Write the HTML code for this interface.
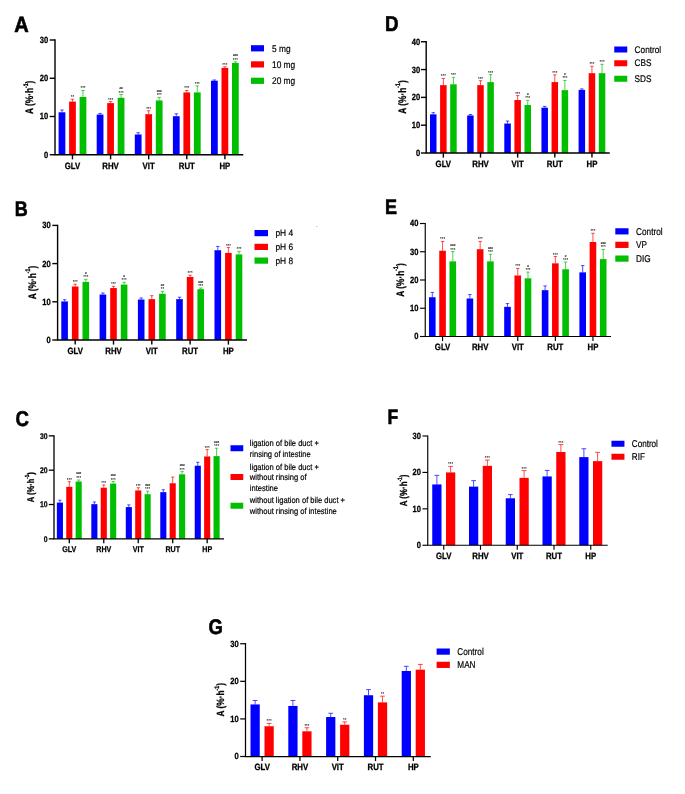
<!DOCTYPE html>
<html><head><meta charset="utf-8"><title>Figure</title>
<style>html,body{margin:0;padding:0;background:#fff}svg{display:block}text{fill:#000}</style>
</head><body>
<svg width="685" height="794" viewBox="0 0 685 794" text-rendering="geometricPrecision">
<rect width="685" height="794" fill="#fff"/>
<rect x="58.6" y="112.29" width="6.75" height="42.46" fill="#0000ff"/>
<path d="M61.98 112.29V110M60.22 110H63.73" stroke="#0000ff" stroke-width="0.7" fill="none"/>
<rect x="69.1" y="101.58" width="6.75" height="53.17" fill="#ff0000"/>
<path d="M72.47 101.58V99.29M70.72 99.29H74.23" stroke="#ff0000" stroke-width="0.7" fill="none"/>
<text x="72.47" y="98.29" font-size="4.3" text-anchor="middle" fill="#555" font-weight="bold" font-family="Liberation Sans, sans-serif">**</text>
<rect x="79.6" y="96.99" width="6.75" height="57.76" fill="#00be00"/>
<path d="M82.97 96.99V90.49M81.22 90.49H84.73" stroke="#00be00" stroke-width="0.7" fill="none"/>
<text x="82.97" y="89.49" font-size="4.3" text-anchor="middle" fill="#555" font-weight="bold" font-family="Liberation Sans, sans-serif">***</text>
<rect x="96.7" y="114.59" width="6.75" height="40.16" fill="#0000ff"/>
<path d="M100.08 114.59V113.44M98.32 113.44H101.83" stroke="#0000ff" stroke-width="0.7" fill="none"/>
<rect x="107.2" y="103.11" width="6.75" height="51.64" fill="#ff0000"/>
<path d="M110.58 103.11V101.58M108.82 101.58H112.33" stroke="#ff0000" stroke-width="0.7" fill="none"/>
<text x="110.58" y="100.58" font-size="4.3" text-anchor="middle" fill="#555" font-weight="bold" font-family="Liberation Sans, sans-serif">***</text>
<rect x="117.7" y="97.76" width="6.75" height="56.99" fill="#00be00"/>
<path d="M121.08 97.76V94.51M119.32 94.51H122.83" stroke="#00be00" stroke-width="0.7" fill="none"/>
<text x="121.08" y="93.51" font-size="4.3" text-anchor="middle" fill="#555" font-weight="bold" font-family="Liberation Sans, sans-serif">***</text>
<text transform="translate(121.08,89.01) scale(1.15,1)" font-size="2.6" text-anchor="middle" fill="#555" stroke="#555" stroke-width="0.18" font-weight="bold" font-family="Liberation Sans, sans-serif">##</text>
<rect x="134.8" y="134.48" width="6.75" height="20.27" fill="#0000ff"/>
<path d="M138.18 134.48V132.76M136.42 132.76H139.93" stroke="#0000ff" stroke-width="0.7" fill="none"/>
<rect x="145.3" y="114.2" width="6.75" height="40.55" fill="#ff0000"/>
<path d="M148.68 114.2V110.76M146.92 110.76H150.43" stroke="#ff0000" stroke-width="0.7" fill="none"/>
<text x="148.68" y="109.76" font-size="4.3" text-anchor="middle" fill="#555" font-weight="bold" font-family="Liberation Sans, sans-serif">***</text>
<rect x="155.8" y="100.44" width="6.75" height="54.31" fill="#00be00"/>
<path d="M159.18 100.44V97.38M157.42 97.38H160.93" stroke="#00be00" stroke-width="0.7" fill="none"/>
<text x="159.18" y="96.38" font-size="4.3" text-anchor="middle" fill="#555" font-weight="bold" font-family="Liberation Sans, sans-serif">***</text>
<text transform="translate(159.18,91.88) scale(1.15,1)" font-size="2.6" text-anchor="middle" fill="#555" stroke="#555" stroke-width="0.18" font-weight="bold" font-family="Liberation Sans, sans-serif">###</text>
<rect x="172.9" y="116.23" width="6.75" height="38.52" fill="#0000ff"/>
<path d="M176.28 116.23V113.75M174.52 113.75H178.03" stroke="#0000ff" stroke-width="0.7" fill="none"/>
<rect x="183.4" y="92.4" width="6.75" height="62.35" fill="#ff0000"/>
<path d="M186.78 92.4V90.49M185.02 90.49H188.53" stroke="#ff0000" stroke-width="0.7" fill="none"/>
<text x="186.78" y="89.49" font-size="4.3" text-anchor="middle" fill="#555" font-weight="bold" font-family="Liberation Sans, sans-serif">***</text>
<rect x="193.9" y="92.4" width="6.75" height="62.35" fill="#00be00"/>
<path d="M197.28 92.4V85.9M195.52 85.9H199.03" stroke="#00be00" stroke-width="0.7" fill="none"/>
<text x="197.28" y="84.9" font-size="4.3" text-anchor="middle" fill="#555" font-weight="bold" font-family="Liberation Sans, sans-serif">***</text>
<rect x="211" y="80.74" width="6.75" height="74.01" fill="#0000ff"/>
<path d="M214.38 80.74V79.97M212.62 79.97H216.13" stroke="#0000ff" stroke-width="0.7" fill="none"/>
<rect x="221.5" y="67.92" width="6.75" height="86.83" fill="#ff0000"/>
<path d="M224.88 67.92V66.78M223.12 66.78H226.63" stroke="#ff0000" stroke-width="0.7" fill="none"/>
<text x="224.88" y="65.78" font-size="4.3" text-anchor="middle" fill="#555" font-weight="bold" font-family="Liberation Sans, sans-serif">***</text>
<rect x="232" y="62.95" width="6.75" height="91.8" fill="#00be00"/>
<path d="M235.38 62.95V61.8M233.62 61.8H237.13" stroke="#00be00" stroke-width="0.7" fill="none"/>
<text x="235.38" y="60.8" font-size="4.3" text-anchor="middle" fill="#555" font-weight="bold" font-family="Liberation Sans, sans-serif">***</text>
<text transform="translate(235.38,56.3) scale(1.15,1)" font-size="2.6" text-anchor="middle" fill="#555" stroke="#555" stroke-width="0.18" font-weight="bold" font-family="Liberation Sans, sans-serif">###</text>
<path d="M55 39.3V155.45M54.3 154.75H243.25" stroke="#000" stroke-width="1.4" fill="none"/>
<path d="M49.7 154.75H55" stroke="#000" stroke-width="1.4"/>
<text transform="translate(48.1,157.72) scale(0.84,1)" font-size="9.0" font-weight="bold" stroke="#000" stroke-width="0.27" text-anchor="end" font-family="Liberation Sans, sans-serif">0</text>
<path d="M49.7 116.5H55" stroke="#000" stroke-width="1.4"/>
<text transform="translate(48.1,119.47) scale(0.84,1)" font-size="9.0" font-weight="bold" stroke="#000" stroke-width="0.27" text-anchor="end" font-family="Liberation Sans, sans-serif">10</text>
<path d="M49.7 78.25H55" stroke="#000" stroke-width="1.4"/>
<text transform="translate(48.1,81.22) scale(0.84,1)" font-size="9.0" font-weight="bold" stroke="#000" stroke-width="0.27" text-anchor="end" font-family="Liberation Sans, sans-serif">20</text>
<path d="M49.7 40H55" stroke="#000" stroke-width="1.4"/>
<text transform="translate(48.1,42.97) scale(0.84,1)" font-size="9.0" font-weight="bold" stroke="#000" stroke-width="0.27" text-anchor="end" font-family="Liberation Sans, sans-serif">30</text>
<path d="M72.47 154.75V159.35" stroke="#000" stroke-width="1.4"/>
<text transform="translate(72.47,168.9) scale(0.85,1)" font-size="9.2" font-weight="bold" stroke="#000" stroke-width="0.28" text-anchor="middle" font-family="Liberation Sans, sans-serif">GLV</text>
<path d="M110.58 154.75V159.35" stroke="#000" stroke-width="1.4"/>
<text transform="translate(110.58,168.9) scale(0.85,1)" font-size="9.2" font-weight="bold" stroke="#000" stroke-width="0.28" text-anchor="middle" font-family="Liberation Sans, sans-serif">RHV</text>
<path d="M148.68 154.75V159.35" stroke="#000" stroke-width="1.4"/>
<text transform="translate(148.68,168.9) scale(0.85,1)" font-size="9.2" font-weight="bold" stroke="#000" stroke-width="0.28" text-anchor="middle" font-family="Liberation Sans, sans-serif">VIT</text>
<path d="M186.78 154.75V159.35" stroke="#000" stroke-width="1.4"/>
<text transform="translate(186.78,168.9) scale(0.85,1)" font-size="9.2" font-weight="bold" stroke="#000" stroke-width="0.28" text-anchor="middle" font-family="Liberation Sans, sans-serif">RUT</text>
<path d="M224.88 154.75V159.35" stroke="#000" stroke-width="1.4"/>
<text transform="translate(224.88,168.9) scale(0.85,1)" font-size="9.2" font-weight="bold" stroke="#000" stroke-width="0.28" text-anchor="middle" font-family="Liberation Sans, sans-serif">HP</text>
<g transform="translate(33.4,97.3) rotate(-90) scale(0.77,1)"><text x="0" y="0" font-size="10.8" font-weight="bold" stroke="#000" stroke-width="0.3" text-anchor="middle" font-family="Liberation Sans, sans-serif">A (%·h<tspan dy="-5.62" font-size="6.7">-1</tspan><tspan dy="5.62">)</tspan></text></g>
<text transform="translate(14.3,31.5) scale(0.91,1)" font-size="22" font-weight="bold" stroke="#000" stroke-width="0.66" text-anchor="start" font-family="Liberation Sans, sans-serif">A</text>
<rect x="251" y="45.2" width="13" height="6.2" fill="#0000ff"/>
<rect x="251" y="61.3" width="13" height="6.2" fill="#ff0000"/>
<rect x="251" y="77.7" width="13" height="6.2" fill="#00be00"/>
<text transform="translate(272,51.8) scale(0.86,1)" font-size="9.7" stroke="#000" stroke-width="0.2" font-family="Liberation Sans, sans-serif">5 mg</text>
<text transform="translate(272,67.8) scale(0.86,1)" font-size="9.7" stroke="#000" stroke-width="0.2" font-family="Liberation Sans, sans-serif">10 mg</text>
<text transform="translate(272,84) scale(0.86,1)" font-size="9.7" stroke="#000" stroke-width="0.2" font-family="Liberation Sans, sans-serif">20 mg</text>
<rect x="61.3" y="301.42" width="6.6" height="38.58" fill="#0000ff"/>
<path d="M64.6 301.42V299.7M62.88 299.7H66.32" stroke="#0000ff" stroke-width="0.7" fill="none"/>
<rect x="71.9" y="286.52" width="6.6" height="53.48" fill="#ff0000"/>
<path d="M75.2 286.52V284.23M73.48 284.23H76.92" stroke="#ff0000" stroke-width="0.7" fill="none"/>
<text x="75.2" y="283.23" font-size="4.3" text-anchor="middle" fill="#555" font-weight="bold" font-family="Liberation Sans, sans-serif">***</text>
<rect x="82.5" y="281.94" width="6.6" height="58.06" fill="#00be00"/>
<path d="M85.8 281.94V279.26M84.08 279.26H87.52" stroke="#00be00" stroke-width="0.7" fill="none"/>
<text x="85.8" y="278.26" font-size="4.3" text-anchor="middle" fill="#555" font-weight="bold" font-family="Liberation Sans, sans-serif">***</text>
<text transform="translate(85.8,273.76) scale(1.15,1)" font-size="2.6" text-anchor="middle" fill="#555" stroke="#555" stroke-width="0.18" font-weight="bold" font-family="Liberation Sans, sans-serif">#</text>
<rect x="99.6" y="294.54" width="6.6" height="45.46" fill="#0000ff"/>
<path d="M102.9 294.54V293.01M101.18 293.01H104.62" stroke="#0000ff" stroke-width="0.7" fill="none"/>
<rect x="110.2" y="288.05" width="6.6" height="51.95" fill="#ff0000"/>
<path d="M113.5 288.05V286.33M111.78 286.33H115.22" stroke="#ff0000" stroke-width="0.7" fill="none"/>
<text x="113.5" y="285.33" font-size="4.3" text-anchor="middle" fill="#555" font-weight="bold" font-family="Liberation Sans, sans-serif">***</text>
<rect x="120.8" y="284.61" width="6.6" height="55.39" fill="#00be00"/>
<path d="M124.1 284.61V282.32M122.38 282.32H125.82" stroke="#00be00" stroke-width="0.7" fill="none"/>
<text x="124.1" y="281.32" font-size="4.3" text-anchor="middle" fill="#555" font-weight="bold" font-family="Liberation Sans, sans-serif">***</text>
<text transform="translate(124.1,276.82) scale(1.15,1)" font-size="2.6" text-anchor="middle" fill="#555" stroke="#555" stroke-width="0.18" font-weight="bold" font-family="Liberation Sans, sans-serif">#</text>
<rect x="137.9" y="299.51" width="6.6" height="40.49" fill="#0000ff"/>
<path d="M141.2 299.51V297.98M139.48 297.98H142.92" stroke="#0000ff" stroke-width="0.7" fill="none"/>
<rect x="148.5" y="299.13" width="6.6" height="40.87" fill="#ff0000"/>
<path d="M151.8 299.13V295.69M150.08 295.69H153.52" stroke="#ff0000" stroke-width="0.7" fill="none"/>
<rect x="159.1" y="293.78" width="6.6" height="46.22" fill="#00be00"/>
<path d="M162.4 293.78V291.3M160.68 291.3H164.12" stroke="#00be00" stroke-width="0.7" fill="none"/>
<text x="162.4" y="290.3" font-size="4.3" text-anchor="middle" fill="#555" font-weight="bold" font-family="Liberation Sans, sans-serif">**</text>
<text transform="translate(162.4,285.8) scale(1.15,1)" font-size="2.6" text-anchor="middle" fill="#555" stroke="#555" stroke-width="0.18" font-weight="bold" font-family="Liberation Sans, sans-serif">##</text>
<rect x="176.2" y="299.13" width="6.6" height="40.87" fill="#0000ff"/>
<path d="M179.5 299.13V297.22M177.78 297.22H181.22" stroke="#0000ff" stroke-width="0.7" fill="none"/>
<rect x="186.8" y="276.97" width="6.6" height="63.03" fill="#ff0000"/>
<path d="M190.1 276.97V275.25M188.38 275.25H191.82" stroke="#ff0000" stroke-width="0.7" fill="none"/>
<text x="190.1" y="274.25" font-size="4.3" text-anchor="middle" fill="#555" font-weight="bold" font-family="Liberation Sans, sans-serif">***</text>
<rect x="197.4" y="289.19" width="6.6" height="50.81" fill="#00be00"/>
<path d="M200.7 289.19V288.05M198.98 288.05H202.42" stroke="#00be00" stroke-width="0.7" fill="none"/>
<text x="200.7" y="287.05" font-size="4.3" text-anchor="middle" fill="#555" font-weight="bold" font-family="Liberation Sans, sans-serif">***</text>
<text transform="translate(200.7,282.55) scale(1.15,1)" font-size="2.6" text-anchor="middle" fill="#555" stroke="#555" stroke-width="0.18" font-weight="bold" font-family="Liberation Sans, sans-serif">###</text>
<rect x="214.5" y="250.23" width="6.6" height="89.77" fill="#0000ff"/>
<path d="M217.8 250.23V246.41M216.08 246.41H219.52" stroke="#0000ff" stroke-width="0.7" fill="none"/>
<rect x="225.1" y="252.9" width="6.6" height="87.1" fill="#ff0000"/>
<path d="M228.4 252.9V247.56M226.68 247.56H230.12" stroke="#ff0000" stroke-width="0.7" fill="none"/>
<text x="228.4" y="246.56" font-size="4.3" text-anchor="middle" fill="#555" font-weight="bold" font-family="Liberation Sans, sans-serif">***</text>
<rect x="235.7" y="254.43" width="6.6" height="85.57" fill="#00be00"/>
<path d="M239 254.43V251.38M237.28 251.38H240.72" stroke="#00be00" stroke-width="0.7" fill="none"/>
<text x="239" y="250.38" font-size="4.3" text-anchor="middle" fill="#555" font-weight="bold" font-family="Liberation Sans, sans-serif">***</text>
<path d="M57.6 224.7V340.7M56.9 340H247" stroke="#000" stroke-width="1.4" fill="none"/>
<path d="M52.3 340H57.6" stroke="#000" stroke-width="1.4"/>
<text transform="translate(50.7,342.97) scale(0.84,1)" font-size="9.0" font-weight="bold" stroke="#000" stroke-width="0.27" text-anchor="end" font-family="Liberation Sans, sans-serif">0</text>
<path d="M52.3 301.8H57.6" stroke="#000" stroke-width="1.4"/>
<text transform="translate(50.7,304.77) scale(0.84,1)" font-size="9.0" font-weight="bold" stroke="#000" stroke-width="0.27" text-anchor="end" font-family="Liberation Sans, sans-serif">10</text>
<path d="M52.3 263.6H57.6" stroke="#000" stroke-width="1.4"/>
<text transform="translate(50.7,266.57) scale(0.84,1)" font-size="9.0" font-weight="bold" stroke="#000" stroke-width="0.27" text-anchor="end" font-family="Liberation Sans, sans-serif">20</text>
<path d="M52.3 225.4H57.6" stroke="#000" stroke-width="1.4"/>
<text transform="translate(50.7,228.37) scale(0.84,1)" font-size="9.0" font-weight="bold" stroke="#000" stroke-width="0.27" text-anchor="end" font-family="Liberation Sans, sans-serif">30</text>
<path d="M75.2 340V344.6" stroke="#000" stroke-width="1.4"/>
<text transform="translate(75.2,354.4) scale(0.85,1)" font-size="9.2" font-weight="bold" stroke="#000" stroke-width="0.28" text-anchor="middle" font-family="Liberation Sans, sans-serif">GLV</text>
<path d="M113.5 340V344.6" stroke="#000" stroke-width="1.4"/>
<text transform="translate(113.5,354.4) scale(0.85,1)" font-size="9.2" font-weight="bold" stroke="#000" stroke-width="0.28" text-anchor="middle" font-family="Liberation Sans, sans-serif">RHV</text>
<path d="M151.8 340V344.6" stroke="#000" stroke-width="1.4"/>
<text transform="translate(151.8,354.4) scale(0.85,1)" font-size="9.2" font-weight="bold" stroke="#000" stroke-width="0.28" text-anchor="middle" font-family="Liberation Sans, sans-serif">VIT</text>
<path d="M190.1 340V344.6" stroke="#000" stroke-width="1.4"/>
<text transform="translate(190.1,354.4) scale(0.85,1)" font-size="9.2" font-weight="bold" stroke="#000" stroke-width="0.28" text-anchor="middle" font-family="Liberation Sans, sans-serif">RUT</text>
<path d="M228.4 340V344.6" stroke="#000" stroke-width="1.4"/>
<text transform="translate(228.4,354.4) scale(0.85,1)" font-size="9.2" font-weight="bold" stroke="#000" stroke-width="0.28" text-anchor="middle" font-family="Liberation Sans, sans-serif">HP</text>
<g transform="translate(35.5,282.5) rotate(-90) scale(0.77,1)"><text x="0" y="0" font-size="10.8" font-weight="bold" stroke="#000" stroke-width="0.3" text-anchor="middle" font-family="Liberation Sans, sans-serif">A (%·h<tspan dy="-5.62" font-size="6.7">-1</tspan><tspan dy="5.62">)</tspan></text></g>
<text transform="translate(14.8,215.7) scale(0.855,1)" font-size="21" font-weight="bold" stroke="#000" stroke-width="0.63" text-anchor="start" font-family="Liberation Sans, sans-serif">B</text>
<rect x="254.5" y="230" width="13.5" height="6.2" fill="#0000ff"/>
<rect x="254.5" y="243.8" width="13.5" height="6.2" fill="#ff0000"/>
<rect x="254.5" y="257.5" width="13.5" height="6.2" fill="#00be00"/>
<text transform="translate(275.4,236.2) scale(0.91,1)" font-size="9.2" stroke="#000" stroke-width="0.2" font-family="Liberation Sans, sans-serif">pH 4</text>
<text transform="translate(275.4,249.9) scale(0.91,1)" font-size="9.2" stroke="#000" stroke-width="0.2" font-family="Liberation Sans, sans-serif">pH 6</text>
<text transform="translate(275.4,263.7) scale(0.91,1)" font-size="9.2" stroke="#000" stroke-width="0.2" font-family="Liberation Sans, sans-serif">pH 8</text>
<rect x="56.85" y="502.59" width="6.1" height="36.26" fill="#0000ff"/>
<path d="M59.9 502.59V500.19M58.31 500.19H61.49" stroke="#0000ff" stroke-width="0.7" fill="none"/>
<rect x="66.25" y="486.84" width="6.1" height="52.01" fill="#ff0000"/>
<path d="M69.3 486.84V481.69M67.71 481.69H70.89" stroke="#ff0000" stroke-width="0.7" fill="none"/>
<text x="69.3" y="480.69" font-size="4.3" text-anchor="middle" fill="#555" font-weight="bold" font-family="Liberation Sans, sans-serif">***</text>
<rect x="75.65" y="481.51" width="6.1" height="57.34" fill="#00be00"/>
<path d="M78.7 481.51V479.97M77.11 479.97H80.29" stroke="#00be00" stroke-width="0.7" fill="none"/>
<text x="78.7" y="478.97" font-size="4.3" text-anchor="middle" fill="#555" font-weight="bold" font-family="Liberation Sans, sans-serif">***</text>
<text transform="translate(78.7,474.47) scale(1.15,1)" font-size="2.6" text-anchor="middle" fill="#555" stroke="#555" stroke-width="0.18" font-weight="bold" font-family="Liberation Sans, sans-serif">###</text>
<rect x="91.32" y="504.17" width="6.1" height="34.68" fill="#0000ff"/>
<path d="M94.37 504.17V501.94M92.78 501.94H95.96" stroke="#0000ff" stroke-width="0.7" fill="none"/>
<rect x="100.72" y="487.69" width="6.1" height="51.16" fill="#ff0000"/>
<path d="M103.77 487.69V484.95M102.18 484.95H105.36" stroke="#ff0000" stroke-width="0.7" fill="none"/>
<text x="103.77" y="483.95" font-size="4.3" text-anchor="middle" fill="#555" font-weight="bold" font-family="Liberation Sans, sans-serif">***</text>
<rect x="110.12" y="483.57" width="6.1" height="55.28" fill="#00be00"/>
<path d="M113.17 483.57V481.51M111.58 481.51H114.76" stroke="#00be00" stroke-width="0.7" fill="none"/>
<text x="113.17" y="480.51" font-size="4.3" text-anchor="middle" fill="#555" font-weight="bold" font-family="Liberation Sans, sans-serif">***</text>
<text transform="translate(113.17,476.01) scale(1.15,1)" font-size="2.6" text-anchor="middle" fill="#555" stroke="#555" stroke-width="0.18" font-weight="bold" font-family="Liberation Sans, sans-serif">###</text>
<rect x="125.79" y="507.09" width="6.1" height="31.76" fill="#0000ff"/>
<path d="M128.84 507.09V504.86M127.25 504.86H130.43" stroke="#0000ff" stroke-width="0.7" fill="none"/>
<rect x="135.19" y="490.44" width="6.1" height="48.41" fill="#ff0000"/>
<path d="M138.24 490.44V487.69M136.65 487.69H139.83" stroke="#ff0000" stroke-width="0.7" fill="none"/>
<text x="138.24" y="486.69" font-size="4.3" text-anchor="middle" fill="#555" font-weight="bold" font-family="Liberation Sans, sans-serif">***</text>
<rect x="144.59" y="494.22" width="6.1" height="44.63" fill="#00be00"/>
<path d="M147.64 494.22V491.13M146.05 491.13H149.23" stroke="#00be00" stroke-width="0.7" fill="none"/>
<text x="147.64" y="490.13" font-size="4.3" text-anchor="middle" fill="#555" font-weight="bold" font-family="Liberation Sans, sans-serif">***</text>
<text transform="translate(147.64,485.63) scale(1.15,1)" font-size="2.6" text-anchor="middle" fill="#555" stroke="#555" stroke-width="0.18" font-weight="bold" font-family="Liberation Sans, sans-serif">###</text>
<rect x="160.26" y="492.16" width="6.1" height="46.69" fill="#0000ff"/>
<path d="M163.31 492.16V489.75M161.72 489.75H164.9" stroke="#0000ff" stroke-width="0.7" fill="none"/>
<rect x="169.66" y="483.23" width="6.1" height="55.62" fill="#ff0000"/>
<path d="M172.71 483.23V477.05M171.12 477.05H174.3" stroke="#ff0000" stroke-width="0.7" fill="none"/>
<rect x="179.06" y="474.3" width="6.1" height="64.55" fill="#00be00"/>
<path d="M182.11 474.3V471.56M180.52 471.56H183.7" stroke="#00be00" stroke-width="0.7" fill="none"/>
<text x="182.11" y="470.56" font-size="4.3" text-anchor="middle" fill="#555" font-weight="bold" font-family="Liberation Sans, sans-serif">***</text>
<text transform="translate(182.11,466.06) scale(1.15,1)" font-size="2.6" text-anchor="middle" fill="#555" stroke="#555" stroke-width="0.18" font-weight="bold" font-family="Liberation Sans, sans-serif">###</text>
<rect x="194.73" y="465.72" width="6.1" height="73.13" fill="#0000ff"/>
<path d="M197.78 465.72V462.29M196.19 462.29H199.37" stroke="#0000ff" stroke-width="0.7" fill="none"/>
<rect x="204.13" y="456.45" width="6.1" height="82.4" fill="#ff0000"/>
<path d="M207.18 456.45V449.58M205.59 449.58H208.77" stroke="#ff0000" stroke-width="0.7" fill="none"/>
<text x="207.18" y="448.58" font-size="4.3" text-anchor="middle" fill="#555" font-weight="bold" font-family="Liberation Sans, sans-serif">***</text>
<rect x="213.53" y="456.11" width="6.1" height="82.74" fill="#00be00"/>
<path d="M216.58 456.11V448.21M214.99 448.21H218.17" stroke="#00be00" stroke-width="0.7" fill="none"/>
<text x="216.58" y="447.21" font-size="4.3" text-anchor="middle" fill="#555" font-weight="bold" font-family="Liberation Sans, sans-serif">***</text>
<text transform="translate(216.58,442.71) scale(1.15,1)" font-size="2.6" text-anchor="middle" fill="#555" stroke="#555" stroke-width="0.18" font-weight="bold" font-family="Liberation Sans, sans-serif">###</text>
<path d="M54 435.2V539.5M53.35 538.85H224" stroke="#000" stroke-width="1.3" fill="none"/>
<path d="M48.8 538.85H54" stroke="#000" stroke-width="1.3"/>
<text transform="translate(47.6,541.54) scale(0.84,1)" font-size="8.2" font-weight="bold" stroke="#000" stroke-width="0.25" text-anchor="end" font-family="Liberation Sans, sans-serif">0</text>
<path d="M48.8 504.52H54" stroke="#000" stroke-width="1.3"/>
<text transform="translate(47.6,507.2) scale(0.84,1)" font-size="8.2" font-weight="bold" stroke="#000" stroke-width="0.25" text-anchor="end" font-family="Liberation Sans, sans-serif">10</text>
<path d="M48.8 470.18H54" stroke="#000" stroke-width="1.3"/>
<text transform="translate(47.6,472.87) scale(0.84,1)" font-size="8.2" font-weight="bold" stroke="#000" stroke-width="0.25" text-anchor="end" font-family="Liberation Sans, sans-serif">20</text>
<path d="M48.8 435.85H54" stroke="#000" stroke-width="1.3"/>
<text transform="translate(47.6,438.54) scale(0.84,1)" font-size="8.2" font-weight="bold" stroke="#000" stroke-width="0.25" text-anchor="end" font-family="Liberation Sans, sans-serif">30</text>
<path d="M69.3 538.85V543.35" stroke="#000" stroke-width="1.3"/>
<text transform="translate(69.3,551.9) scale(0.85,1)" font-size="8.4" font-weight="bold" stroke="#000" stroke-width="0.25" text-anchor="middle" font-family="Liberation Sans, sans-serif">GLV</text>
<path d="M103.77 538.85V543.35" stroke="#000" stroke-width="1.3"/>
<text transform="translate(103.77,551.9) scale(0.85,1)" font-size="8.4" font-weight="bold" stroke="#000" stroke-width="0.25" text-anchor="middle" font-family="Liberation Sans, sans-serif">RHV</text>
<path d="M138.24 538.85V543.35" stroke="#000" stroke-width="1.3"/>
<text transform="translate(138.24,551.9) scale(0.85,1)" font-size="8.4" font-weight="bold" stroke="#000" stroke-width="0.25" text-anchor="middle" font-family="Liberation Sans, sans-serif">VIT</text>
<path d="M172.71 538.85V543.35" stroke="#000" stroke-width="1.3"/>
<text transform="translate(172.71,551.9) scale(0.85,1)" font-size="8.4" font-weight="bold" stroke="#000" stroke-width="0.25" text-anchor="middle" font-family="Liberation Sans, sans-serif">RUT</text>
<path d="M207.18 538.85V543.35" stroke="#000" stroke-width="1.3"/>
<text transform="translate(207.18,551.9) scale(0.85,1)" font-size="8.4" font-weight="bold" stroke="#000" stroke-width="0.25" text-anchor="middle" font-family="Liberation Sans, sans-serif">HP</text>
<g transform="translate(33.9,487.2) rotate(-90) scale(0.775,1)"><text x="0" y="0" font-size="9.7" font-weight="bold" stroke="#000" stroke-width="0.3" text-anchor="middle" font-family="Liberation Sans, sans-serif">A (%·h<tspan dy="-5.04" font-size="6.01">-1</tspan><tspan dy="5.04">)</tspan></text></g>
<text transform="translate(15.4,426.4) scale(0.87,1)" font-size="21.3" font-weight="bold" stroke="#000" stroke-width="0.64" text-anchor="start" font-family="Liberation Sans, sans-serif">C</text>
<rect x="230.5" y="445.25" width="12.75" height="6" fill="#0000ff"/>
<rect x="230.5" y="474" width="12.75" height="6" fill="#ff0000"/>
<rect x="230.5" y="502.75" width="12.75" height="6" fill="#00be00"/>
<text transform="translate(249.8,445.7) scale(0.88,1)" font-size="8.6" stroke="#000" stroke-width="0.2" font-family="Liberation Sans, sans-serif">ligation of bile duct +</text>
<text transform="translate(249.8,456.5) scale(0.88,1)" font-size="8.6" stroke="#000" stroke-width="0.2" font-family="Liberation Sans, sans-serif">rinsing of intestine</text>
<text transform="translate(249.8,469.6) scale(0.88,1)" font-size="8.6" stroke="#000" stroke-width="0.2" font-family="Liberation Sans, sans-serif">ligation of bile duct +</text>
<text transform="translate(249.8,480) scale(0.88,1)" font-size="8.6" stroke="#000" stroke-width="0.2" font-family="Liberation Sans, sans-serif">without rinsing of</text>
<text transform="translate(249.8,490.7) scale(0.88,1)" font-size="8.6" stroke="#000" stroke-width="0.2" font-family="Liberation Sans, sans-serif">intestine</text>
<text transform="translate(249.8,503.4) scale(0.88,1)" font-size="8.6" stroke="#000" stroke-width="0.2" font-family="Liberation Sans, sans-serif">without ligation of bile duct +</text>
<text transform="translate(249.8,513.7) scale(0.88,1)" font-size="8.6" stroke="#000" stroke-width="0.2" font-family="Liberation Sans, sans-serif">without rinsing of intestine</text>
<rect x="430" y="114.34" width="6.5" height="38.66" fill="#0000ff"/>
<path d="M433.25 114.34V112.67M431.56 112.67H434.94" stroke="#0000ff" stroke-width="0.7" fill="none"/>
<rect x="440.1" y="85.14" width="6.5" height="67.86" fill="#ff0000"/>
<path d="M443.35 85.14V78.46M441.66 78.46H445.04" stroke="#ff0000" stroke-width="0.7" fill="none"/>
<text x="443.35" y="77.46" font-size="4.3" text-anchor="middle" fill="#555" font-weight="bold" font-family="Liberation Sans, sans-serif">***</text>
<rect x="450.2" y="84.3" width="6.5" height="68.7" fill="#00be00"/>
<path d="M453.45 84.3V77.35M451.76 77.35H455.14" stroke="#00be00" stroke-width="0.7" fill="none"/>
<text x="453.45" y="76.35" font-size="4.3" text-anchor="middle" fill="#555" font-weight="bold" font-family="Liberation Sans, sans-serif">***</text>
<rect x="467.15" y="115.45" width="6.5" height="37.55" fill="#0000ff"/>
<path d="M470.4 115.45V114.48M468.71 114.48H472.09" stroke="#0000ff" stroke-width="0.7" fill="none"/>
<rect x="477.25" y="85.14" width="6.5" height="67.86" fill="#ff0000"/>
<path d="M480.5 85.14V80.69M478.81 80.69H482.19" stroke="#ff0000" stroke-width="0.7" fill="none"/>
<text x="480.5" y="79.69" font-size="4.3" text-anchor="middle" fill="#555" font-weight="bold" font-family="Liberation Sans, sans-serif">***</text>
<rect x="487.35" y="82.08" width="6.5" height="70.92" fill="#00be00"/>
<path d="M490.6 82.08V74.57M488.91 74.57H492.29" stroke="#00be00" stroke-width="0.7" fill="none"/>
<text x="490.6" y="73.57" font-size="4.3" text-anchor="middle" fill="#555" font-weight="bold" font-family="Liberation Sans, sans-serif">***</text>
<rect x="504.3" y="123.52" width="6.5" height="29.48" fill="#0000ff"/>
<path d="M507.55 123.52V121.02M505.86 121.02H509.24" stroke="#0000ff" stroke-width="0.7" fill="none"/>
<rect x="514.4" y="100.02" width="6.5" height="52.98" fill="#ff0000"/>
<path d="M517.65 100.02V95.57M515.96 95.57H519.34" stroke="#ff0000" stroke-width="0.7" fill="none"/>
<text x="517.65" y="94.57" font-size="4.3" text-anchor="middle" fill="#555" font-weight="bold" font-family="Liberation Sans, sans-serif">***</text>
<rect x="524.5" y="105.02" width="6.5" height="47.98" fill="#00be00"/>
<path d="M527.75 105.02V100.3M526.06 100.3H529.44" stroke="#00be00" stroke-width="0.7" fill="none"/>
<text x="527.75" y="99.3" font-size="4.3" text-anchor="middle" fill="#555" font-weight="bold" font-family="Liberation Sans, sans-serif">***</text>
<text transform="translate(527.75,94.8) scale(1.15,1)" font-size="2.6" text-anchor="middle" fill="#555" stroke="#555" stroke-width="0.18" font-weight="bold" font-family="Liberation Sans, sans-serif">#</text>
<rect x="541.45" y="107.67" width="6.5" height="45.33" fill="#0000ff"/>
<path d="M544.7 107.67V106.41M543.01 106.41H546.39" stroke="#0000ff" stroke-width="0.7" fill="none"/>
<rect x="551.55" y="82.08" width="6.5" height="70.92" fill="#ff0000"/>
<path d="M554.8 82.08V74.85M553.11 74.85H556.49" stroke="#ff0000" stroke-width="0.7" fill="none"/>
<text x="554.8" y="73.85" font-size="4.3" text-anchor="middle" fill="#555" font-weight="bold" font-family="Liberation Sans, sans-serif">***</text>
<rect x="561.65" y="90.14" width="6.5" height="62.86" fill="#00be00"/>
<path d="M564.9 90.14V80.41M563.21 80.41H566.59" stroke="#00be00" stroke-width="0.7" fill="none"/>
<text x="564.9" y="79.41" font-size="4.3" text-anchor="middle" fill="#555" font-weight="bold" font-family="Liberation Sans, sans-serif">***</text>
<text transform="translate(564.9,74.91) scale(1.15,1)" font-size="2.6" text-anchor="middle" fill="#555" stroke="#555" stroke-width="0.18" font-weight="bold" font-family="Liberation Sans, sans-serif">#</text>
<rect x="578.6" y="89.87" width="6.5" height="63.13" fill="#0000ff"/>
<path d="M581.85 89.87V88.89M580.16 88.89H583.54" stroke="#0000ff" stroke-width="0.7" fill="none"/>
<rect x="588.7" y="73.18" width="6.5" height="79.82" fill="#ff0000"/>
<path d="M591.95 73.18V66.23M590.26 66.23H593.64" stroke="#ff0000" stroke-width="0.7" fill="none"/>
<text x="591.95" y="65.23" font-size="4.3" text-anchor="middle" fill="#555" font-weight="bold" font-family="Liberation Sans, sans-serif">***</text>
<rect x="598.8" y="73.18" width="6.5" height="79.82" fill="#00be00"/>
<path d="M602.05 73.18V64.28M600.36 64.28H603.74" stroke="#00be00" stroke-width="0.7" fill="none"/>
<text x="602.05" y="63.28" font-size="4.3" text-anchor="middle" fill="#555" font-weight="bold" font-family="Liberation Sans, sans-serif">***</text>
<path d="M426.2 41.05V153.7M425.5 153H609.75" stroke="#000" stroke-width="1.4" fill="none"/>
<path d="M420.9 153H426.2" stroke="#000" stroke-width="1.4"/>
<text transform="translate(420.1,155.97) scale(0.84,1)" font-size="9.0" font-weight="bold" stroke="#000" stroke-width="0.27" text-anchor="end" font-family="Liberation Sans, sans-serif">0</text>
<path d="M420.9 125.19H426.2" stroke="#000" stroke-width="1.4"/>
<text transform="translate(420.1,128.16) scale(0.84,1)" font-size="9.0" font-weight="bold" stroke="#000" stroke-width="0.27" text-anchor="end" font-family="Liberation Sans, sans-serif">10</text>
<path d="M420.9 97.38H426.2" stroke="#000" stroke-width="1.4"/>
<text transform="translate(420.1,100.34) scale(0.84,1)" font-size="9.0" font-weight="bold" stroke="#000" stroke-width="0.27" text-anchor="end" font-family="Liberation Sans, sans-serif">20</text>
<path d="M420.9 69.56H426.2" stroke="#000" stroke-width="1.4"/>
<text transform="translate(420.1,72.53) scale(0.84,1)" font-size="9.0" font-weight="bold" stroke="#000" stroke-width="0.27" text-anchor="end" font-family="Liberation Sans, sans-serif">30</text>
<path d="M420.9 41.75H426.2" stroke="#000" stroke-width="1.4"/>
<text transform="translate(420.1,44.72) scale(0.84,1)" font-size="9.0" font-weight="bold" stroke="#000" stroke-width="0.27" text-anchor="end" font-family="Liberation Sans, sans-serif">40</text>
<path d="M443.35 153V157.6" stroke="#000" stroke-width="1.4"/>
<text transform="translate(443.35,166.9) scale(0.85,1)" font-size="9.2" font-weight="bold" stroke="#000" stroke-width="0.28" text-anchor="middle" font-family="Liberation Sans, sans-serif">GLV</text>
<path d="M480.5 153V157.6" stroke="#000" stroke-width="1.4"/>
<text transform="translate(480.5,166.9) scale(0.85,1)" font-size="9.2" font-weight="bold" stroke="#000" stroke-width="0.28" text-anchor="middle" font-family="Liberation Sans, sans-serif">RHV</text>
<path d="M517.65 153V157.6" stroke="#000" stroke-width="1.4"/>
<text transform="translate(517.65,166.9) scale(0.85,1)" font-size="9.2" font-weight="bold" stroke="#000" stroke-width="0.28" text-anchor="middle" font-family="Liberation Sans, sans-serif">VIT</text>
<path d="M554.8 153V157.6" stroke="#000" stroke-width="1.4"/>
<text transform="translate(554.8,166.9) scale(0.85,1)" font-size="9.2" font-weight="bold" stroke="#000" stroke-width="0.28" text-anchor="middle" font-family="Liberation Sans, sans-serif">RUT</text>
<path d="M591.95 153V157.6" stroke="#000" stroke-width="1.4"/>
<text transform="translate(591.95,166.9) scale(0.85,1)" font-size="9.2" font-weight="bold" stroke="#000" stroke-width="0.28" text-anchor="middle" font-family="Liberation Sans, sans-serif">HP</text>
<g transform="translate(405.8,97) rotate(-90) scale(0.77,1)"><text x="0" y="0" font-size="10.8" font-weight="bold" stroke="#000" stroke-width="0.3" text-anchor="middle" font-family="Liberation Sans, sans-serif">A (%·h<tspan dy="-5.62" font-size="6.7">-1</tspan><tspan dy="5.62">)</tspan></text></g>
<text transform="translate(385,30.75) scale(0.87,1)" font-size="21.5" font-weight="bold" stroke="#000" stroke-width="0.65" text-anchor="start" font-family="Liberation Sans, sans-serif">D</text>
<rect x="614.25" y="46.5" width="13" height="6" fill="#0000ff"/>
<rect x="614.25" y="60.25" width="13" height="6" fill="#ff0000"/>
<rect x="614.25" y="75.75" width="13" height="6" fill="#00be00"/>
<text transform="translate(634.6,52.8) scale(0.85,1)" font-size="9.7" stroke="#000" stroke-width="0.2" font-family="Liberation Sans, sans-serif">Control</text>
<text transform="translate(634.6,66) scale(0.85,1)" font-size="9.7" stroke="#000" stroke-width="0.2" font-family="Liberation Sans, sans-serif">CBS</text>
<text transform="translate(634.6,81.8) scale(0.85,1)" font-size="9.7" stroke="#000" stroke-width="0.2" font-family="Liberation Sans, sans-serif">SDS</text>
<rect x="429" y="297.23" width="6.6" height="39.27" fill="#0000ff"/>
<path d="M432.3 297.23V292.43M430.58 292.43H434.02" stroke="#0000ff" stroke-width="0.7" fill="none"/>
<rect x="439.25" y="250.76" width="6.6" height="85.74" fill="#ff0000"/>
<path d="M442.55 250.76V241.44M440.83 241.44H444.27" stroke="#ff0000" stroke-width="0.7" fill="none"/>
<text x="442.55" y="240.44" font-size="4.3" text-anchor="middle" fill="#555" font-weight="bold" font-family="Liberation Sans, sans-serif">***</text>
<rect x="449.5" y="261.36" width="6.6" height="75.14" fill="#00be00"/>
<path d="M452.8 261.36V251.61M451.08 251.61H454.52" stroke="#00be00" stroke-width="0.7" fill="none"/>
<text x="452.8" y="250.61" font-size="4.3" text-anchor="middle" fill="#555" font-weight="bold" font-family="Liberation Sans, sans-serif">***</text>
<text transform="translate(452.8,246.11) scale(1.15,1)" font-size="2.6" text-anchor="middle" fill="#555" stroke="#555" stroke-width="0.18" font-weight="bold" font-family="Liberation Sans, sans-serif">###</text>
<rect x="466.6" y="298.5" width="6.6" height="38" fill="#0000ff"/>
<path d="M469.9 298.5V294.55M468.18 294.55H471.62" stroke="#0000ff" stroke-width="0.7" fill="none"/>
<rect x="476.85" y="249.21" width="6.6" height="87.29" fill="#ff0000"/>
<path d="M480.15 249.21V241.44M478.43 241.44H481.87" stroke="#ff0000" stroke-width="0.7" fill="none"/>
<text x="480.15" y="240.44" font-size="4.3" text-anchor="middle" fill="#555" font-weight="bold" font-family="Liberation Sans, sans-serif">***</text>
<rect x="487.1" y="261.36" width="6.6" height="75.14" fill="#00be00"/>
<path d="M490.4 261.36V254.29M488.68 254.29H492.12" stroke="#00be00" stroke-width="0.7" fill="none"/>
<text x="490.4" y="253.29" font-size="4.3" text-anchor="middle" fill="#555" font-weight="bold" font-family="Liberation Sans, sans-serif">***</text>
<text transform="translate(490.4,248.79) scale(1.15,1)" font-size="2.6" text-anchor="middle" fill="#555" stroke="#555" stroke-width="0.18" font-weight="bold" font-family="Liberation Sans, sans-serif">###</text>
<rect x="504.2" y="306.84" width="6.6" height="29.66" fill="#0000ff"/>
<path d="M507.5 306.84V303.59M505.78 303.59H509.22" stroke="#0000ff" stroke-width="0.7" fill="none"/>
<rect x="514.45" y="275.48" width="6.6" height="61.02" fill="#ff0000"/>
<path d="M517.75 275.48V268.42M516.03 268.42H519.47" stroke="#ff0000" stroke-width="0.7" fill="none"/>
<text x="517.75" y="267.42" font-size="4.3" text-anchor="middle" fill="#555" font-weight="bold" font-family="Liberation Sans, sans-serif">***</text>
<rect x="524.7" y="278.31" width="6.6" height="58.19" fill="#00be00"/>
<path d="M528 278.31V272.09M526.28 272.09H529.72" stroke="#00be00" stroke-width="0.7" fill="none"/>
<text x="528" y="271.09" font-size="4.3" text-anchor="middle" fill="#555" font-weight="bold" font-family="Liberation Sans, sans-serif">***</text>
<text transform="translate(528,266.59) scale(1.15,1)" font-size="2.6" text-anchor="middle" fill="#555" stroke="#555" stroke-width="0.18" font-weight="bold" font-family="Liberation Sans, sans-serif">#</text>
<rect x="541.8" y="290.17" width="6.6" height="46.33" fill="#0000ff"/>
<path d="M545.1 290.17V285.93M543.38 285.93H546.82" stroke="#0000ff" stroke-width="0.7" fill="none"/>
<rect x="552.05" y="263.33" width="6.6" height="73.17" fill="#ff0000"/>
<path d="M555.35 263.33V256.55M553.63 256.55H557.07" stroke="#ff0000" stroke-width="0.7" fill="none"/>
<text x="555.35" y="255.55" font-size="4.3" text-anchor="middle" fill="#555" font-weight="bold" font-family="Liberation Sans, sans-serif">***</text>
<rect x="562.3" y="269.26" width="6.6" height="67.24" fill="#00be00"/>
<path d="M565.6 269.26V262.06M563.88 262.06H567.32" stroke="#00be00" stroke-width="0.7" fill="none"/>
<text x="565.6" y="261.06" font-size="4.3" text-anchor="middle" fill="#555" font-weight="bold" font-family="Liberation Sans, sans-serif">***</text>
<text transform="translate(565.6,256.56) scale(1.15,1)" font-size="2.6" text-anchor="middle" fill="#555" stroke="#555" stroke-width="0.18" font-weight="bold" font-family="Liberation Sans, sans-serif">#</text>
<rect x="579.4" y="272.37" width="6.6" height="64.13" fill="#0000ff"/>
<path d="M582.7 272.37V265.59M580.98 265.59H584.42" stroke="#0000ff" stroke-width="0.7" fill="none"/>
<rect x="589.65" y="242" width="6.6" height="94.5" fill="#ff0000"/>
<path d="M592.95 242V233.25M591.23 233.25H594.67" stroke="#ff0000" stroke-width="0.7" fill="none"/>
<text x="592.95" y="232.25" font-size="4.3" text-anchor="middle" fill="#555" font-weight="bold" font-family="Liberation Sans, sans-serif">***</text>
<rect x="599.9" y="259.1" width="6.6" height="77.4" fill="#00be00"/>
<path d="M603.2 259.1V249.49M601.48 249.49H604.92" stroke="#00be00" stroke-width="0.7" fill="none"/>
<text x="603.2" y="248.49" font-size="4.3" text-anchor="middle" fill="#555" font-weight="bold" font-family="Liberation Sans, sans-serif">***</text>
<text transform="translate(603.2,243.99) scale(1.15,1)" font-size="2.6" text-anchor="middle" fill="#555" stroke="#555" stroke-width="0.18" font-weight="bold" font-family="Liberation Sans, sans-serif">###</text>
<path d="M425.25 222.93V337.07M424.68 336.5H611" stroke="#000" stroke-width="1.15" fill="none"/>
<path d="M419.95 336.5H425.25" stroke="#000" stroke-width="1.15"/>
<text transform="translate(418.35,339.47) scale(0.84,1)" font-size="9.0" font-weight="bold" stroke="#000" stroke-width="0.27" text-anchor="end" font-family="Liberation Sans, sans-serif">0</text>
<path d="M419.95 308.25H425.25" stroke="#000" stroke-width="1.15"/>
<text transform="translate(418.35,311.22) scale(0.84,1)" font-size="9.0" font-weight="bold" stroke="#000" stroke-width="0.27" text-anchor="end" font-family="Liberation Sans, sans-serif">10</text>
<path d="M419.95 280H425.25" stroke="#000" stroke-width="1.15"/>
<text transform="translate(418.35,282.97) scale(0.84,1)" font-size="9.0" font-weight="bold" stroke="#000" stroke-width="0.27" text-anchor="end" font-family="Liberation Sans, sans-serif">20</text>
<path d="M419.95 251.75H425.25" stroke="#000" stroke-width="1.15"/>
<text transform="translate(418.35,254.72) scale(0.84,1)" font-size="9.0" font-weight="bold" stroke="#000" stroke-width="0.27" text-anchor="end" font-family="Liberation Sans, sans-serif">30</text>
<path d="M419.95 223.5H425.25" stroke="#000" stroke-width="1.15"/>
<text transform="translate(418.35,226.47) scale(0.84,1)" font-size="9.0" font-weight="bold" stroke="#000" stroke-width="0.27" text-anchor="end" font-family="Liberation Sans, sans-serif">40</text>
<path d="M442.55 336.5V341.1" stroke="#000" stroke-width="1.15"/>
<text transform="translate(442.55,350) scale(0.85,1)" font-size="9.2" font-weight="bold" stroke="#000" stroke-width="0.28" text-anchor="middle" font-family="Liberation Sans, sans-serif">GLV</text>
<path d="M480.15 336.5V341.1" stroke="#000" stroke-width="1.15"/>
<text transform="translate(480.15,350) scale(0.85,1)" font-size="9.2" font-weight="bold" stroke="#000" stroke-width="0.28" text-anchor="middle" font-family="Liberation Sans, sans-serif">RHV</text>
<path d="M517.75 336.5V341.1" stroke="#000" stroke-width="1.15"/>
<text transform="translate(517.75,350) scale(0.85,1)" font-size="9.2" font-weight="bold" stroke="#000" stroke-width="0.28" text-anchor="middle" font-family="Liberation Sans, sans-serif">VIT</text>
<path d="M555.35 336.5V341.1" stroke="#000" stroke-width="1.15"/>
<text transform="translate(555.35,350) scale(0.85,1)" font-size="9.2" font-weight="bold" stroke="#000" stroke-width="0.28" text-anchor="middle" font-family="Liberation Sans, sans-serif">RUT</text>
<path d="M592.95 336.5V341.1" stroke="#000" stroke-width="1.15"/>
<text transform="translate(592.95,350) scale(0.85,1)" font-size="9.2" font-weight="bold" stroke="#000" stroke-width="0.28" text-anchor="middle" font-family="Liberation Sans, sans-serif">HP</text>
<g transform="translate(403.8,280) rotate(-90) scale(0.77,1)"><text x="0" y="0" font-size="10.8" font-weight="bold" stroke="#000" stroke-width="0.3" text-anchor="middle" font-family="Liberation Sans, sans-serif">A (%·h<tspan dy="-5.62" font-size="6.7">-1</tspan><tspan dy="5.62">)</tspan></text></g>
<text transform="translate(385.1,214.3) scale(0.855,1)" font-size="21" font-weight="bold" stroke="#000" stroke-width="0.63" text-anchor="start" font-family="Liberation Sans, sans-serif">E</text>
<rect x="615.3" y="228.25" width="13.25" height="6.2" fill="#0000ff"/>
<rect x="615.3" y="241.75" width="13.25" height="6.2" fill="#ff0000"/>
<rect x="615.3" y="255.5" width="13.25" height="6.2" fill="#00be00"/>
<text transform="translate(636,234.8) scale(0.835,1)" font-size="9.9" stroke="#000" stroke-width="0.2" font-family="Liberation Sans, sans-serif">Control</text>
<text transform="translate(636,248.3) scale(0.835,1)" font-size="9.9" stroke="#000" stroke-width="0.2" font-family="Liberation Sans, sans-serif">VP</text>
<text transform="translate(636,262) scale(0.835,1)" font-size="9.9" stroke="#000" stroke-width="0.2" font-family="Liberation Sans, sans-serif">DIG</text>
<rect x="432.25" y="484.43" width="9.25" height="60.82" fill="#0000ff"/>
<path d="M436.88 484.43V475.33M434.47 475.33H439.28" stroke="#0000ff" stroke-width="0.7" fill="none"/>
<rect x="446" y="472.42" width="9.25" height="72.83" fill="#ff0000"/>
<path d="M450.62 472.42V466.41M448.22 466.41H453.03" stroke="#ff0000" stroke-width="0.7" fill="none"/>
<text x="450.62" y="465.41" font-size="4.3" text-anchor="middle" fill="#555" font-weight="bold" font-family="Liberation Sans, sans-serif">***</text>
<rect x="469" y="486.62" width="9.25" height="58.63" fill="#0000ff"/>
<path d="M473.62 486.62V480.61M471.22 480.61H476.03" stroke="#0000ff" stroke-width="0.7" fill="none"/>
<rect x="482.75" y="465.86" width="9.25" height="79.39" fill="#ff0000"/>
<path d="M487.38 465.86V460.04M484.97 460.04H489.78" stroke="#ff0000" stroke-width="0.7" fill="none"/>
<text x="487.38" y="459.04" font-size="4.3" text-anchor="middle" fill="#555" font-weight="bold" font-family="Liberation Sans, sans-serif">***</text>
<rect x="505.75" y="498.27" width="9.25" height="46.98" fill="#0000ff"/>
<path d="M510.38 498.27V494.63M507.97 494.63H512.78" stroke="#0000ff" stroke-width="0.7" fill="none"/>
<rect x="519.5" y="477.88" width="9.25" height="67.37" fill="#ff0000"/>
<path d="M524.12 477.88V470.6M521.72 470.6H526.53" stroke="#ff0000" stroke-width="0.7" fill="none"/>
<text x="524.12" y="469.6" font-size="4.3" text-anchor="middle" fill="#555" font-weight="bold" font-family="Liberation Sans, sans-serif">***</text>
<rect x="542.5" y="476.42" width="9.25" height="68.83" fill="#0000ff"/>
<path d="M547.12 476.42V470.41M544.72 470.41H549.53" stroke="#0000ff" stroke-width="0.7" fill="none"/>
<rect x="556.25" y="452.02" width="9.25" height="93.23" fill="#ff0000"/>
<path d="M560.88 452.02V444.56M558.47 444.56H563.28" stroke="#ff0000" stroke-width="0.7" fill="none"/>
<text x="560.88" y="443.56" font-size="4.3" text-anchor="middle" fill="#555" font-weight="bold" font-family="Liberation Sans, sans-serif">***</text>
<rect x="579.25" y="457.12" width="9.25" height="88.13" fill="#0000ff"/>
<path d="M583.88 457.12V448.75M581.47 448.75H586.28" stroke="#0000ff" stroke-width="0.7" fill="none"/>
<rect x="593" y="461.13" width="9.25" height="84.12" fill="#ff0000"/>
<path d="M597.62 461.13V452.39M595.22 452.39H600.03" stroke="#ff0000" stroke-width="0.7" fill="none"/>
<path d="M427.75 435.43V545.83M427.18 545.25H607.75" stroke="#000" stroke-width="1.15" fill="none"/>
<path d="M422.45 545.25H427.75" stroke="#000" stroke-width="1.15"/>
<text transform="translate(420.85,548.22) scale(0.84,1)" font-size="9.0" font-weight="bold" stroke="#000" stroke-width="0.27" text-anchor="end" font-family="Liberation Sans, sans-serif">0</text>
<path d="M422.45 508.83H427.75" stroke="#000" stroke-width="1.15"/>
<text transform="translate(420.85,511.8) scale(0.84,1)" font-size="9.0" font-weight="bold" stroke="#000" stroke-width="0.27" text-anchor="end" font-family="Liberation Sans, sans-serif">10</text>
<path d="M422.45 472.42H427.75" stroke="#000" stroke-width="1.15"/>
<text transform="translate(420.85,475.38) scale(0.84,1)" font-size="9.0" font-weight="bold" stroke="#000" stroke-width="0.27" text-anchor="end" font-family="Liberation Sans, sans-serif">20</text>
<path d="M422.45 436H427.75" stroke="#000" stroke-width="1.15"/>
<text transform="translate(420.85,438.97) scale(0.84,1)" font-size="9.0" font-weight="bold" stroke="#000" stroke-width="0.27" text-anchor="end" font-family="Liberation Sans, sans-serif">30</text>
<path d="M443.75 545.25V549.85" stroke="#000" stroke-width="1.15"/>
<text transform="translate(443.75,559.4) scale(0.85,1)" font-size="9.2" font-weight="bold" stroke="#000" stroke-width="0.28" text-anchor="middle" font-family="Liberation Sans, sans-serif">GLV</text>
<path d="M480.5 545.25V549.85" stroke="#000" stroke-width="1.15"/>
<text transform="translate(480.5,559.4) scale(0.85,1)" font-size="9.2" font-weight="bold" stroke="#000" stroke-width="0.28" text-anchor="middle" font-family="Liberation Sans, sans-serif">RHV</text>
<path d="M517.25 545.25V549.85" stroke="#000" stroke-width="1.15"/>
<text transform="translate(517.25,559.4) scale(0.85,1)" font-size="9.2" font-weight="bold" stroke="#000" stroke-width="0.28" text-anchor="middle" font-family="Liberation Sans, sans-serif">VIT</text>
<path d="M554 545.25V549.85" stroke="#000" stroke-width="1.15"/>
<text transform="translate(554,559.4) scale(0.85,1)" font-size="9.2" font-weight="bold" stroke="#000" stroke-width="0.28" text-anchor="middle" font-family="Liberation Sans, sans-serif">RUT</text>
<path d="M590.75 545.25V549.85" stroke="#000" stroke-width="1.15"/>
<text transform="translate(590.75,559.4) scale(0.85,1)" font-size="9.2" font-weight="bold" stroke="#000" stroke-width="0.28" text-anchor="middle" font-family="Liberation Sans, sans-serif">HP</text>
<g transform="translate(406.8,490.4) rotate(-90) scale(0.775,1)"><text x="0" y="0" font-size="10.2" font-weight="bold" stroke="#000" stroke-width="0.3" text-anchor="middle" font-family="Liberation Sans, sans-serif">A (%·h<tspan dy="-5.3" font-size="6.32">-1</tspan><tspan dy="5.3">)</tspan></text></g>
<text transform="translate(387.4,423.9) scale(0.83,1)" font-size="21" font-weight="bold" stroke="#000" stroke-width="0.63" text-anchor="start" font-family="Liberation Sans, sans-serif">F</text>
<rect x="611.45" y="440.75" width="13" height="6" fill="#0000ff"/>
<rect x="611.45" y="453.75" width="13" height="6" fill="#ff0000"/>
<text transform="translate(631.8,447.2) scale(0.82,1)" font-size="9.9" stroke="#000" stroke-width="0.2" font-family="Liberation Sans, sans-serif">Control</text>
<text transform="translate(631.8,460.3) scale(0.82,1)" font-size="9.9" stroke="#000" stroke-width="0.2" font-family="Liberation Sans, sans-serif">RIF</text>
<rect x="250.5" y="704.45" width="9.25" height="52.05" fill="#0000ff"/>
<path d="M255.12 704.45V700.5M252.72 700.5H257.53" stroke="#0000ff" stroke-width="0.7" fill="none"/>
<rect x="264.5" y="726.25" width="9.25" height="30.25" fill="#ff0000"/>
<path d="M269.12 726.25V723.43M266.72 723.43H271.53" stroke="#ff0000" stroke-width="0.7" fill="none"/>
<text x="269.12" y="722.43" font-size="4.3" text-anchor="middle" fill="#555" font-weight="bold" font-family="Liberation Sans, sans-serif">***</text>
<rect x="288.3" y="705.95" width="9.25" height="50.55" fill="#0000ff"/>
<path d="M292.93 705.95V700.5M290.52 700.5H295.33" stroke="#0000ff" stroke-width="0.7" fill="none"/>
<rect x="302.3" y="731.32" width="9.25" height="25.18" fill="#ff0000"/>
<path d="M306.93 731.32V727.75M304.52 727.75H309.33" stroke="#ff0000" stroke-width="0.7" fill="none"/>
<text x="306.93" y="726.75" font-size="4.3" text-anchor="middle" fill="#555" font-weight="bold" font-family="Liberation Sans, sans-serif">***</text>
<rect x="326.1" y="717.04" width="9.25" height="39.46" fill="#0000ff"/>
<path d="M330.73 717.04V713.28M328.32 713.28H333.13" stroke="#0000ff" stroke-width="0.7" fill="none"/>
<rect x="340.1" y="724.74" width="9.25" height="31.76" fill="#ff0000"/>
<path d="M344.73 724.74V721.92M342.32 721.92H347.13" stroke="#ff0000" stroke-width="0.7" fill="none"/>
<text x="344.73" y="720.92" font-size="4.3" text-anchor="middle" fill="#555" font-weight="bold" font-family="Liberation Sans, sans-serif">**</text>
<rect x="363.9" y="695.24" width="9.25" height="61.26" fill="#0000ff"/>
<path d="M368.52 695.24V689.6M366.12 689.6H370.93" stroke="#0000ff" stroke-width="0.7" fill="none"/>
<rect x="377.9" y="702.38" width="9.25" height="54.12" fill="#ff0000"/>
<path d="M382.52 702.38V696.18M380.12 696.18H384.93" stroke="#ff0000" stroke-width="0.7" fill="none"/>
<text x="382.52" y="695.18" font-size="4.3" text-anchor="middle" fill="#555" font-weight="bold" font-family="Liberation Sans, sans-serif">**</text>
<rect x="401.7" y="671" width="9.25" height="85.5" fill="#0000ff"/>
<path d="M406.32 671V666.3M403.92 666.3H408.73" stroke="#0000ff" stroke-width="0.7" fill="none"/>
<rect x="415.7" y="669.68" width="9.25" height="86.82" fill="#ff0000"/>
<path d="M420.32 669.68V664.42M417.92 664.42H422.73" stroke="#ff0000" stroke-width="0.7" fill="none"/>
<path d="M245.5 643.12V757.12M244.88 756.5H430.75" stroke="#000" stroke-width="1.25" fill="none"/>
<path d="M240.2 756.5H245.5" stroke="#000" stroke-width="1.25"/>
<text transform="translate(238.6,759.47) scale(0.84,1)" font-size="9.0" font-weight="bold" stroke="#000" stroke-width="0.27" text-anchor="end" font-family="Liberation Sans, sans-serif">0</text>
<path d="M240.2 718.92H245.5" stroke="#000" stroke-width="1.25"/>
<text transform="translate(238.6,721.88) scale(0.84,1)" font-size="9.0" font-weight="bold" stroke="#000" stroke-width="0.27" text-anchor="end" font-family="Liberation Sans, sans-serif">10</text>
<path d="M240.2 681.33H245.5" stroke="#000" stroke-width="1.25"/>
<text transform="translate(238.6,684.3) scale(0.84,1)" font-size="9.0" font-weight="bold" stroke="#000" stroke-width="0.27" text-anchor="end" font-family="Liberation Sans, sans-serif">20</text>
<path d="M240.2 643.75H245.5" stroke="#000" stroke-width="1.25"/>
<text transform="translate(238.6,646.72) scale(0.84,1)" font-size="9.0" font-weight="bold" stroke="#000" stroke-width="0.27" text-anchor="end" font-family="Liberation Sans, sans-serif">30</text>
<path d="M262.12 756.5V761.1" stroke="#000" stroke-width="1.25"/>
<text transform="translate(262.12,770.2) scale(0.85,1)" font-size="9.2" font-weight="bold" stroke="#000" stroke-width="0.28" text-anchor="middle" font-family="Liberation Sans, sans-serif">GLV</text>
<path d="M299.93 756.5V761.1" stroke="#000" stroke-width="1.25"/>
<text transform="translate(299.93,770.2) scale(0.85,1)" font-size="9.2" font-weight="bold" stroke="#000" stroke-width="0.28" text-anchor="middle" font-family="Liberation Sans, sans-serif">RHV</text>
<path d="M337.73 756.5V761.1" stroke="#000" stroke-width="1.25"/>
<text transform="translate(337.73,770.2) scale(0.85,1)" font-size="9.2" font-weight="bold" stroke="#000" stroke-width="0.28" text-anchor="middle" font-family="Liberation Sans, sans-serif">VIT</text>
<path d="M375.52 756.5V761.1" stroke="#000" stroke-width="1.25"/>
<text transform="translate(375.52,770.2) scale(0.85,1)" font-size="9.2" font-weight="bold" stroke="#000" stroke-width="0.28" text-anchor="middle" font-family="Liberation Sans, sans-serif">RUT</text>
<path d="M413.32 756.5V761.1" stroke="#000" stroke-width="1.25"/>
<text transform="translate(413.32,770.2) scale(0.85,1)" font-size="9.2" font-weight="bold" stroke="#000" stroke-width="0.28" text-anchor="middle" font-family="Liberation Sans, sans-serif">HP</text>
<g transform="translate(224.3,699.75) rotate(-90) scale(0.8,1)"><text x="0" y="0" font-size="10.4" font-weight="bold" stroke="#000" stroke-width="0.3" text-anchor="middle" font-family="Liberation Sans, sans-serif">A (%·h<tspan dy="-5.41" font-size="6.45">-1</tspan><tspan dy="5.41">)</tspan></text></g>
<text transform="translate(208.5,634.2) scale(0.875,1)" font-size="21" font-weight="bold" stroke="#000" stroke-width="0.63" text-anchor="start" font-family="Liberation Sans, sans-serif">G</text>
<rect x="436.6" y="648.5" width="13.25" height="6.2" fill="#0000ff"/>
<rect x="436.6" y="661.75" width="13.25" height="6.2" fill="#ff0000"/>
<text transform="translate(457.3,655) scale(0.83,1)" font-size="9.9" stroke="#000" stroke-width="0.2" font-family="Liberation Sans, sans-serif">Control</text>
<text transform="translate(457.3,668.3) scale(0.83,1)" font-size="9.9" stroke="#000" stroke-width="0.2" font-family="Liberation Sans, sans-serif">MAN</text>
<rect x="316.4" y="226.2" width="0.8" height="0.8" fill="#777"/>
</svg>
</body></html>
